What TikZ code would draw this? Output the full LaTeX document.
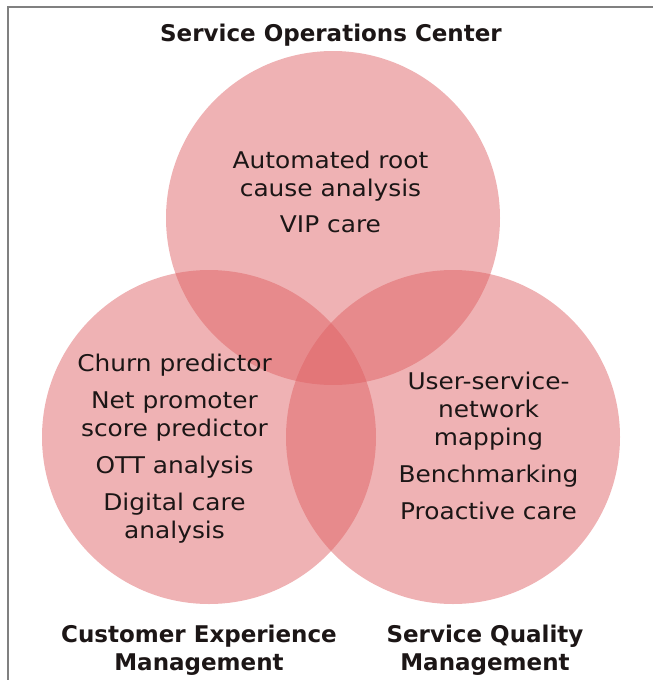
\documentclass[tikz,border=0pt]{standalone}
\usepackage{fontspec}
\setmainfont{DejaVu Sans}
\newfontfamily\bodyfont[FakeStretch=1.08]{DejaVu Sans}
\definecolor{vennred}{RGB}{222,95,98}
\definecolor{ink}{RGB}{28,22,22}
\definecolor{framegray}{RGB}{128,128,128}
\begin{document}
\begin{tikzpicture}[x=1pt,y=-1pt,
  venn/.style={circle, minimum size=334pt, inner sep=0pt, fill=vennred, fill opacity=0.48},
  item/.style={font=\bodyfont\fontsize{23}{28}\selectfont, align=center, text=ink},
  head/.style={font=\bfseries\fontsize{23}{28.5}\selectfont, align=center, text=ink},
  framedge/.style={draw=framegray, line width=2pt}
]
\useasboundingbox (0,0) rectangle (653,680);
% open frame: left and top edges
\coordinate (fbl) at (8,680);
\coordinate (ftl) at (8,7);
\coordinate (ftr) at (653,7);
\draw[framedge] (fbl) -- (ftl) -- (ftr);

% the three overlapping circles
\node[venn] (soc) at (333,218) {};
\node[venn] (cem) at (209,437) {};
\node[venn] (sqm) at (453,437) {};

% circle contents
\node[item] (soctext) at (330.5,191.5) {Automated root\\cause analysis\\[8pt]VIP care};
\node[item] (cemtext) at (174.5,448.5) {Churn predictor\\[9.5pt]Net promoter\\score predictor\\[9pt]OTT analysis\\[9pt]Digital care\\analysis};
\node[item] (sqmtext) at (488.5,446) {User-service-\\network\\mapping\\[8.5pt]Benchmarking\\[9pt]Proactive care};

% headings
\node[head] (soclabel) at (331,35) {Service Operations Center};
\node[head] (cemlabel) at (199,650) {Customer Experience\\Management};
\node[head] (sqmlabel) at (485,650) {Service Quality\\Management};
\end{tikzpicture}
\end{document}
